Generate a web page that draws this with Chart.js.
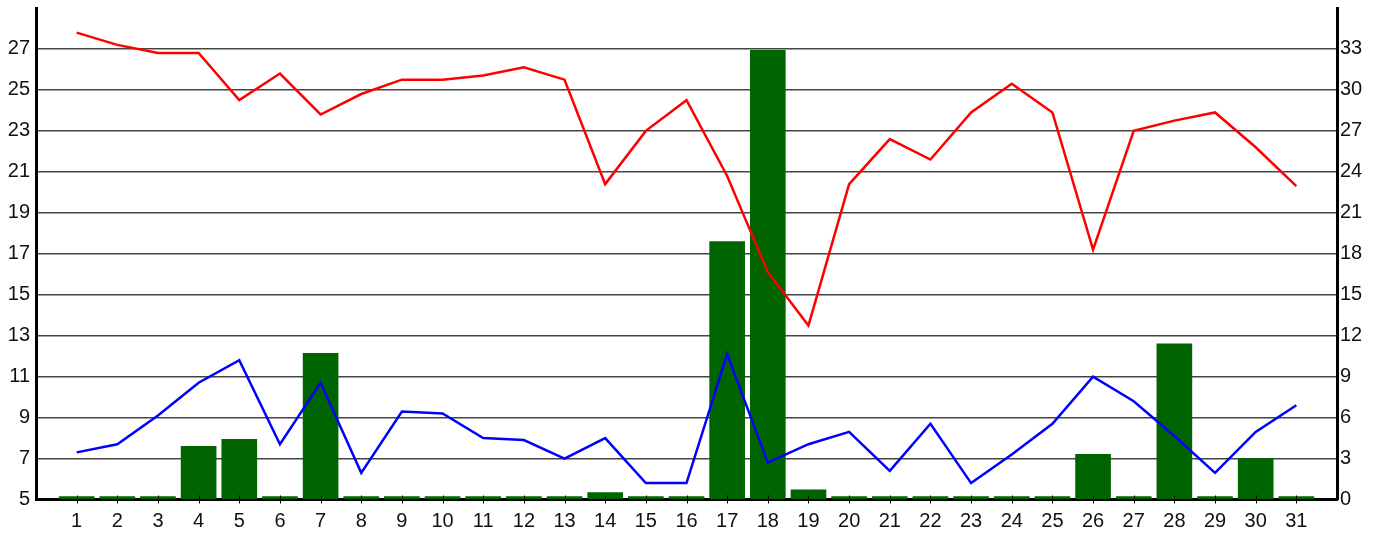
<!DOCTYPE html>
<html>
<head>
<meta charset="utf-8">
<script src="https://cdn.jsdelivr.net/npm/chart.js@4/dist/chart.umd.min.js"></script>
<style>
  html, body { margin: 0; padding: 0; background: #fff; }
  #wrap { width: 1384px; height: 533px; }
</style>
</head>
<body>
<div id="wrap"><canvas id="weatherChart" width="1384" height="533"></canvas></div>
<script>
// Data
const days = [1, 2, 3, 4, 5, 6, 7, 8, 9, 10, 11, 12, 13, 14, 15, 16, 17, 18, 19, 20, 21, 22, 23, 24, 25, 26, 27, 28, 29, 30, 31];

// red line, left axis
const maxTemp = [27.8, 27.2, 26.8, 26.8, 24.5, 25.8, 23.8, 24.8, 25.5, 25.5, 25.7, 26.1, 25.5, 20.4, 23.0, 24.5,
                 20.8, 16.1, 13.5, 20.4, 22.6, 21.6, 23.9, 25.3, 23.9, 17.2, 23.0, 23.5, 23.9, 22.2, 20.3];

// blue line, left axis
const minTemp = [7.3, 7.7, 9.1, 10.7, 11.8, 7.7, 10.7, 6.3, 9.3, 9.2, 8.0, 7.9, 7.0, 8.0, 5.8, 5.8,
                 12.1, 6.8, 7.7, 8.3, 6.4, 8.7, 5.8, 7.2, 8.7, 11.0, 9.8, 8.1, 6.3, 8.3, 9.6];

// green bars, right axis
const rain = [0, 0, 0, 3.9, 4.4, 0, 10.7, 0, 0, 0, 0, 0, 0, 0.5, 0, 0.2,
              18.9, 32.9, 0.7, 0, 0, 0, 0, 0, 0, 3.3, 0, 11.4, 0, 3.0, 0];

// Axis ranges
const leftMin = 5, leftMax = 29, leftStep = 2;
const rightMin = 0, rightMax = 36, rightStep = 3;

const tickFont = { family: "'Liberation Sans', Arial, sans-serif", size: 20 };

// no extra label padding, so the plot area sits where the reference has it
function noPad(scale) {
    scale.paddingTop = 0;
    scale.paddingBottom = 0;
    scale.paddingLeft = 0;
    scale.paddingRight = 0;
}

// short tick marks across the bottom axis
const crossTicks = {
    id: 'crossTicks',
    afterDatasetsDraw(chart) {
        const ctx = chart.ctx;
        const xs = chart.scales.x;
        const bottom = chart.chartArea.bottom;
        ctx.save();
        ctx.strokeStyle = '#000';
        ctx.lineWidth = 1;
        xs.ticks.forEach(t => {
            const px = Math.round(xs.getPixelForValue(t.value)) + 0.5;
            ctx.beginPath();
            ctx.moveTo(px, bottom - 4);
            ctx.lineTo(px, bottom + 4);
            ctx.stroke();
        });
        ctx.restore();
    }
};

const ctx = document.getElementById('weatherChart').getContext('2d');

new Chart(ctx, {
    type: 'bar',
    data: {
        labels: days,
        datasets: [
            {
                type: 'line',
                label: 'Max',
                data: maxTemp,
                yAxisID: 'y',
                borderColor: '#ff0000',
                borderWidth: 2.5,
                pointRadius: 0,
                tension: 0,
                fill: false
            },
            {
                type: 'line',
                label: 'Min',
                data: minTemp,
                yAxisID: 'y',
                borderColor: '#0000ff',
                borderWidth: 2.5,
                pointRadius: 0,
                tension: 0,
                fill: false
            },
            {
                type: 'bar',
                label: 'Rain',
                data: rain,
                yAxisID: 'y1',
                backgroundColor: '#006400',
                borderWidth: 0,
                barThickness: 35,
                minBarLength: 3
            }
        ]
    },
    options: {
        responsive: false,
        animation: false,
        events: [],
        layout: { padding: { top: 8, left: 0, right: 0, bottom: 0 } },
        plugins: {
            legend: { display: false },
            tooltip: { enabled: false }
        },
        scales: {
            x: {
                type: 'linear',
                offset: false,
                min: 0,
                max: 32,
                afterBuildTicks: scale => {
                    scale.ticks = days.map(d => ({ value: d }));
                },
                afterFit: scale => { scale.height = 33.5; noPad(scale); },
                ticks: {
                    color: '#111',
                    font: tickFont,
                    padding: 10,
                    maxRotation: 0,
                    autoSkip: false,
                    callback: v => String(v)
                },
                grid: { display: true, drawOnChartArea: false, drawTicks: false },
                border: { display: true, color: '#000', width: 3 }
            },
            y: {
                position: 'left',
                min: leftMin,
                max: leftMax,
                afterBuildTicks: scale => {
                    const t = [];
                    for (let v = leftMin; v < leftMax; v += leftStep) t.push({ value: v });
                    scale.ticks = t;
                },
                afterFit: scale => { scale.width = 36; noPad(scale); },
                ticks: { color: '#111', font: tickFont, padding: 6 },
                grid: { color: '#444', lineWidth: 1.5, drawTicks: false },
                border: { display: true, color: '#000', width: 3 }
            },
            y1: {
                position: 'right',
                min: rightMin,
                max: rightMax,
                afterBuildTicks: scale => {
                    const t = [];
                    for (let v = rightMin; v < rightMax; v += rightStep) t.push({ value: v });
                    scale.ticks = t;
                },
                afterFit: scale => { scale.width = 47; noPad(scale); },
                ticks: { color: '#111', font: tickFont, padding: 3 },
                grid: { drawOnChartArea: false, drawTicks: false },
                border: { display: true, color: '#000', width: 3 }
            }
        }
    },
    plugins: [crossTicks]
});
</script>
</body>
</html>
